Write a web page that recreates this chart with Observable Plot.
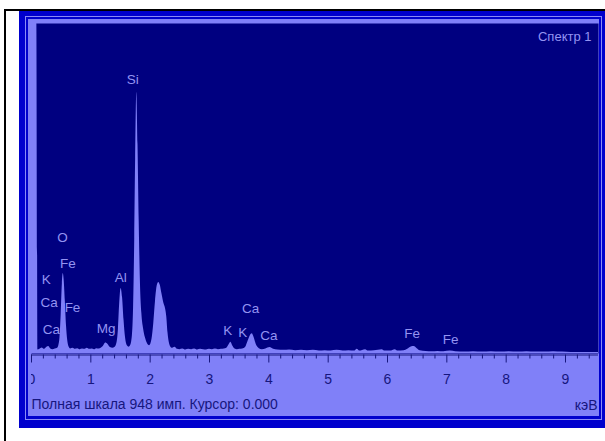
<!DOCTYPE html>
<html><head><meta charset="utf-8">
<script src="https://cdn.jsdelivr.net/npm/d3@7"></script>
<script src="https://cdn.jsdelivr.net/npm/@observablehq/plot@0.6"></script>
<style>
body{margin:0;background:#fff;}
#wrap{position:relative;width:605px;height:441px;overflow:hidden;background:#fff;}
.abs{position:absolute;}
#clip svg{margin-left:-31px;display:block;max-width:none !important;width:605px !important;height:441px !important;}
</style></head><body>
<div id="wrap">
<div class="abs" style="left:4px;top:9px;width:601px;height:2px;background:#000"></div>
<div class="abs" style="left:4px;top:9px;width:2px;height:432px;background:#000"></div>
<div class="abs" style="left:19px;top:11px;width:586px;height:417px;background:#0000cd"></div>
<div class="abs" style="left:25px;top:16px;width:577px;height:404px;border:1px solid #8a8af5;box-sizing:border-box"></div>
<div class="abs" style="left:28px;top:19px;width:571px;height:397px;background:#8080f8"></div>
<div id="clip" class="abs" style="left:31px;top:0;width:574px;height:441px;overflow:hidden"></div>
</div>
<script>
// Spectrum: energy (keV) and counts
const energy = [0, 0.09, 0.11, 0.14, 0.18, 0.22, 0.26, 0.29, 0.32, 0.36, 0.40, 0.44, 0.46, 0.48, 0.50, 0.52, 0.535, 0.55, 0.57, 0.59, 0.61, 0.63, 0.66,
  0.70, 0.74, 0.78, 0.82, 0.86, 0.90, 0.94, 0.98, 1.02, 1.06, 1.10, 1.14, 1.18, 1.21, 1.25, 1.29, 1.33, 1.37, 1.41, 1.44, 1.465, 1.485, 1.51, 1.535, 1.56,
  1.585, 1.615, 1.645, 1.67, 1.70, 1.72, 1.74, 1.755, 1.775, 1.795, 1.815, 1.835, 1.86, 1.89, 1.92, 1.95, 1.99, 2.03, 2.06, 2.09, 2.12, 2.145, 2.17, 2.20,
  2.23, 2.26, 2.28, 2.30, 2.33, 2.37, 2.42, 2.46, 2.50, 2.55, 2.60, 2.65, 2.70, 2.75, 2.80, 2.85, 2.90, 2.95, 3.00, 3.05, 3.10, 3.15, 3.20, 3.25,
  3.29, 3.33, 3.36, 3.39, 3.43, 3.47, 3.51, 3.56, 3.61, 3.65, 3.69, 3.72, 3.75, 3.79, 3.84, 3.89, 3.95, 4.02, 4.08, 4.15, 4.25, 4.35, 4.45, 4.55,
  4.65, 4.75, 4.85, 4.95, 5.05, 5.15, 5.25, 5.35, 5.45, 5.49, 5.53, 5.63, 5.68, 5.78, 5.91, 5.96, 6.05, 6.13, 6.18, 6.28, 6.34, 6.40, 6.45, 6.50,
  6.55, 6.65, 6.75, 6.85, 6.95, 7.06, 7.15, 7.30, 7.45, 7.60, 7.75, 7.90, 8.05, 8.20, 8.35, 8.50, 8.65, 8.80, 8.95, 9.10, 9.30, 9.556];
const counts = [948, 948, 10, 12, 16, 12, 18, 20, 14, 11, 13, 15, 22, 45, 110, 200, 230, 212, 150, 80, 38, 20, 13,
  15, 12, 14, 11, 13, 12, 15, 12, 13, 11, 14, 13, 16, 20, 30, 26, 17, 15, 18, 30, 70, 140, 187, 160, 95,
  45, 22, 18, 22, 50, 130, 330, 560, 750, 600, 380, 210, 115, 70, 45, 30, 22, 40, 85, 150, 195, 204, 196, 170,
  145, 128, 105, 60, 26, 15, 18, 12, 11, 13, 10, 12, 11, 13, 10, 12, 11, 10, 12, 11, 13, 11, 12, 13,
  15, 25, 32, 22, 13, 11, 12, 13, 18, 35, 52, 57, 47, 25, 14, 11, 13, 17, 12, 10, 9, 10, 8, 9,
  8, 9, 7, 8, 7, 9, 7, 8, 7, 12, 7, 11, 7, 8, 11, 7, 7, 11, 7, 8, 12, 19, 20, 14,
  8, 6, 5, 6, 5, 7, 5, 4, 5, 4, 5, 4, 5, 4, 5, 4, 4, 5, 4, 3, 3, 3];

// Peak labels
const labelText = ["Si", "O", "Fe", "K", "Al", "Ca", "Fe", "Ca", "Mg", "Ca", "K", "K", "Ca", "Fe", "Fe"];
const labelEnergy = [1.707, 0.522, 0.615, 0.248, 1.505, 0.298, 0.691, 0.337, 1.256, 3.691, 3.307, 3.561, 4.0, 6.417, 7.062];
const labelCounts = [788, 332, 257, 213, 217, 147, 131, 69, 71, 130, 66, 61, 52, 57, 41];

// Axis ticks
const majorTicks = [0, 1, 2, 3, 4, 5, 6, 7, 8, 9];
const minorTicks = d3.range(0, 9.5, 0.2).filter(v => Math.abs(v - Math.round(v)) > 0.01);

const title = "Спектр 1";
const caption = "Полная шкала 948 имп. Курсор: 0.000";
const unit = "кэВ";

const spectrum = energy.map((e, i) => ({e, c: counts[i]}));
const labels = labelText.map((t, i) => ({t, e: labelEnergy[i], c: labelCounts[i]}));

const navy = "#000080", light = "#8080f8", textLight = "#9494f2", dark = "#16167e";
const font = "'Liberation Sans', Arial, sans-serif";

const chart = Plot.plot({
  width: 605, height: 441,
  marginLeft: 31, marginRight: 7, marginTop: 23, marginBottom: 88,
  x: {domain: [0, 9.556], axis: null},
  y: {domain: [0, 948], axis: null},
  style: {background: "transparent", fontFamily: font, color: dark, overflow: "visible", maxWidth: "none"},
  marks: [
    Plot.frame({fill: navy}),
    Plot.text(labels, {x: "e", y: "c", text: "t", fill: textLight, fontSize: 13.5}),
    Plot.areaY(spectrum, {x: "e", y: "c", fill: light, curve: "monotone-x"}),
    Plot.ruleY([0], {stroke: dark, dy: 1.5}),
    Plot.axisX(minorTicks, {tickSize: 4, tickFormat: () => "", label: null, stroke: dark, dy: 1.5}),
    Plot.axisX(majorTicks, {tickSize: 8, tickPadding: 11, fontSize: 14, label: null, stroke: dark, fill: dark, dy: 1.5}),
    Plot.text([title], {text: d => d, frameAnchor: "top-right", dx: -7, dy: 13, fill: textLight, fontSize: 13, textAnchor: "end", lineAnchor: "middle"}),
    Plot.text([caption], {text: d => d, frameAnchor: "bottom-left", dx: 0, dy: 51, fill: dark, fontSize: 14, textAnchor: "start", lineAnchor: "middle"}),
    Plot.text([unit], {text: d => d, frameAnchor: "bottom-right", dx: -1, dy: 52, fill: dark, fontSize: 14, textAnchor: "end", lineAnchor: "middle"})
  ]
});
document.getElementById("clip").appendChild(chart);
</script>
</body></html>
